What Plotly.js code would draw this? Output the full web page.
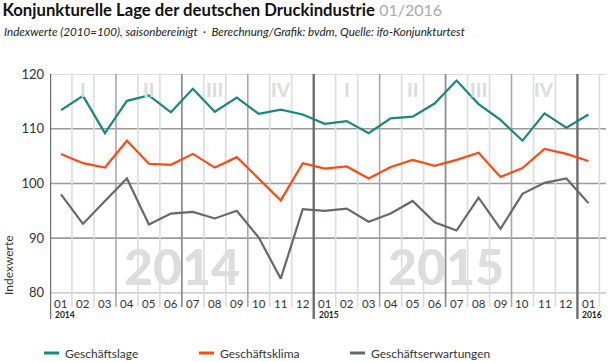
<!DOCTYPE html>
<html>
<head>
<meta charset="utf-8">
<script src="https://cdn.plot.ly/plotly-3.0.1.min.js"></script>
<style>
html,body{margin:0;padding:0;background:#fff;}
#chart{width:610px;height:362px;}
</style>
</head>
<body>
<div id="chart"></div>
<script>
// ---- data ----
var monthLabels = ['01','02','03','04','05','06','07','08','09','10','11','12',
                   '01','02','03','04','05','06','07','08','09','10','11','12','01'];
var yearLabels = ['2014','2015','2016'];
var yearStartIndex = [0, 12, 24];
var quarterLabels = ['I','II','III','IV','I','II','III','IV'];
var watermarkYears = ['2014','2015'];
var seriesNames = ['Geschäftslage','Geschäftsklima','Geschäftserwartungen'];
var geschaeftslage = [113.4,116.0,109.2,115.1,116.1,113.0,117.3,113.1,115.7,112.7,113.5,112.6,
                      110.9,111.4,109.2,111.9,112.2,114.6,118.8,114.5,111.6,107.8,112.8,110.2,112.6];
var geschaeftsklima = [105.4,103.7,102.9,107.8,103.6,103.4,105.4,102.9,104.8,100.8,96.9,103.7,
                       102.7,103.1,100.9,103.0,104.3,103.2,104.3,105.6,101.2,102.8,106.3,105.4,104.1];
var geschaeftserwartungen = [98.0,92.6,96.8,100.9,92.5,94.5,94.8,93.6,95.0,90.1,82.6,95.3,
                             95.0,95.4,93.0,94.5,96.8,92.9,91.4,97.4,91.7,98.1,100.1,100.9,96.4];
var yTicks = [80,90,100,110,120];

// ---- styles ----
var colors = ['#17877f','#ff4a12','#66696b'];
var FONT = 'Lato, "Open Sans", sans-serif';
var W = 610, H = 362, L = 50, R = 4, T = 74, B = 56;
var plotW = W - L - R, plotH = H - T - B;
function px2paperX(px){ return (px - L) / plotW; }
function px2paperY(py){ return (H - B - py) / plotH; }

var xIdx = monthLabels.map(function(_, i){ return i; });
var allSeries = [geschaeftslage, geschaeftsklima, geschaeftserwartungen];
var traces = allSeries.map(function(vals, k){
  return {
    x: xIdx, y: vals, type: 'scatter', mode: 'lines', name: seriesNames[k],
    line: {color: colors[k], width: 2.2}, showlegend: false, hoverinfo: 'skip'
  };
});

var shapes = [];
// horizontal grid lines
yTicks.forEach(function(v, i){
  var light = (i === 0 || i === yTicks.length - 1);
  shapes.push({type:'line', xref:'paper', x0:0, x1:1, yref:'y', y0:v, y1:v,
    line:{color: light ? '#d0d0d0' : '#9a9a9a', width:1.6}, layer:'below'});
});
// vertical grid lines at month boundaries
for (var b = -1; b < monthLabels.length; b++) {
  var xb = b + 0.5;
  var col = '#dcdcdc', w = 1.6, ext = px2paperY(307);
  var nextMonth = (b + 1) % 12;
  if (b === -1 || nextMonth === 0) { col = '#6e6e6e'; w = 2.4; ext = px2paperY(319); }
  else if (nextMonth === 6) { col = '#8e8e8e'; w = 1.8; }
  else if (nextMonth === 3 || nextMonth === 9) { col = '#a8a8a8'; w = 1.6; }
  shapes.push({type:'line', xref:'x', x0:xb, x1:xb, yref:'paper', y0:ext, y1:1,
    line:{color: col, width: w}, layer:'below'});
}

var annotations = [];
// watermark years
watermarkYears.forEach(function(t, i){
  annotations.push({text:t, xref:'x', x: 5.5 + 12*i, yref:'paper', y: px2paperY(266),
    xanchor:'center', yanchor:'middle', showarrow:false,
    font:{family:FONT, size:50, weight:900, color:'#dddddd'}});
});
// quarter labels
quarterLabels.forEach(function(t, i){
  annotations.push({text:t, xref:'x', x: 1 + 3*i, yref:'paper', y: px2paperY(89),
    xanchor:'center', yanchor:'middle', showarrow:false,
    font:{family:FONT, size:19, weight:900, color:'#dddddd'}});
});
// month labels
monthLabels.forEach(function(t, i){
  annotations.push({text:t, xref:'x', x:i, yref:'paper', y: px2paperY(303),
    xanchor:'center', yanchor:'middle', showarrow:false,
    font:{family:FONT, size:11.5, color:'#333333'}});
});
// year labels
yearLabels.forEach(function(t, i){
  annotations.push({text:'<b>'+t+'</b>', xref:'x', x: yearStartIndex[i] - 0.5, xshift: 3,
    yref:'paper', y: px2paperY(315), xanchor:'left', yanchor:'middle', showarrow:false,
    font:{family:FONT, size:8.5, color:'#222222'}});
});
// subtitle
annotations.push({text:'<i>Indexwerte (2010=100), saisonbereinigt  ·  Berechnung/Grafik: bvdm, Quelle: ifo-Konjunkturtest</i>',
  xref:'paper', x: px2paperX(2), yref:'paper', y: px2paperY(32), xanchor:'left', yanchor:'middle',
  showarrow:false, font:{family:FONT, size:11.6, color:'#222222'}});
// y axis title
annotations.push({text:'Indexwerte', xref:'paper', x: px2paperX(8), yref:'paper', y: px2paperY(265),
  xanchor:'center', yanchor:'middle', textangle:-90, showarrow:false,
  font:{family:FONT, size:12, color:'#333333'}});
// custom legend
var legendX = [44, 199, 350];
seriesNames.forEach(function(n, k){
  shapes.push({type:'line', xref:'paper', yref:'paper',
    x0: px2paperX(legendX[k]), x1: px2paperX(legendX[k] + 15),
    y0: px2paperY(353), y1: px2paperY(353), line:{color: colors[k], width:3}});
  annotations.push({text:n, xref:'paper', x: px2paperX(legendX[k] + 19), yref:'paper', y: px2paperY(353),
    xanchor:'left', yanchor:'middle', showarrow:false, font:{family:FONT, size:12, color:'#333333'}});
});

var layout = {
  width: W, height: H,
  margin: {l: L, r: R, t: T, b: B, pad: 0},
  paper_bgcolor: '#ffffff', plot_bgcolor: 'rgba(0,0,0,0)',
  font: {family: FONT, color: '#333333'},
  title: {
    text: '<b>Konjunkturelle Lage der deutschen Druckindustrie</b> <span style="color:#aaaaaa;font-size:16px">01/2016</span>',
    xref: 'container', x: 0.004, xanchor: 'left',
    yref: 'container', y: 1 - 10/362, yanchor: 'middle',
    font: {family: FONT, size: 16.7, color: '#111111'}
  },
  xaxis: {range: [-0.5, 24.8], showgrid: false, zeroline: false, showline: false,
          showticklabels: false, ticks: '', fixedrange: true},
  yaxis: {range: [77.6, 120], showgrid: false, zeroline: false, showline: false,
          tickvals: yTicks, ticks: '', ticklabelstandoff: 5,
          tickfont: {family: FONT, size: 13, color: '#333333'}, fixedrange: true},
  shapes: shapes,
  annotations: annotations,
  showlegend: false
};

Plotly.newPlot('chart', traces, layout, {displayModeBar: false, staticPlot: true});
</script>
</body>
</html>
